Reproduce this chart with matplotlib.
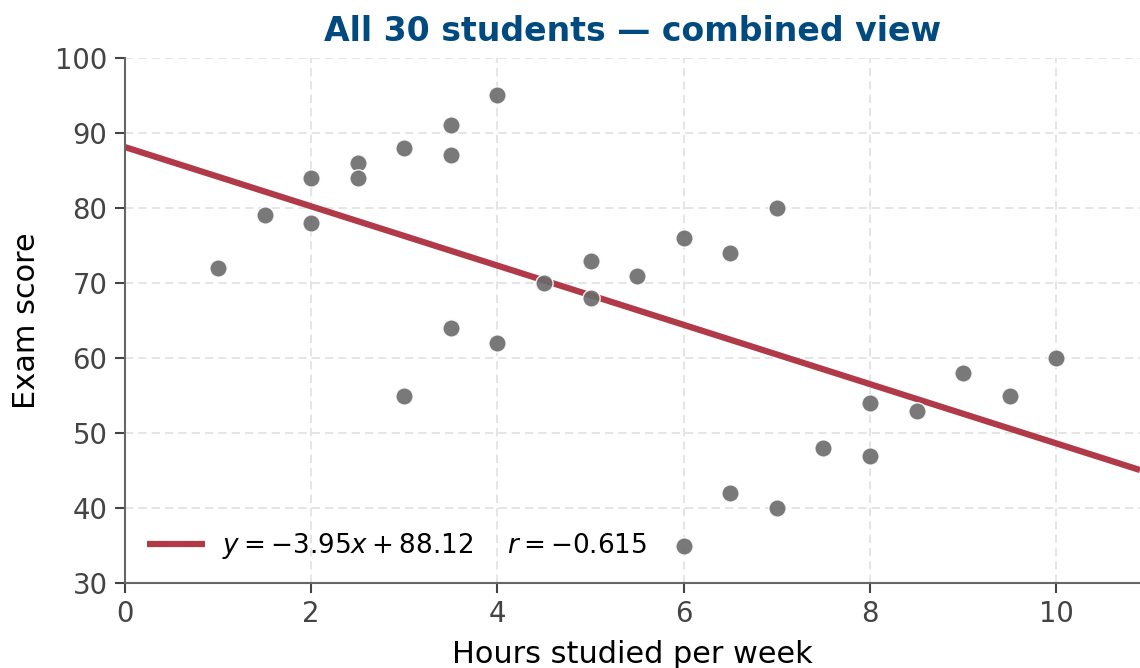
import matplotlib
matplotlib.use("Agg")
import matplotlib.pyplot as plt
import numpy as np

hours = [1, 1.5, 2, 2, 2.5, 2.5, 3, 3, 3.5, 3.5, 3.5, 4, 4, 4.5, 5, 5, 5.5,
         6, 6, 6.5, 6.5, 7, 7, 7.5, 8, 8, 8.5, 9, 9.5, 10]
scores = [72, 79, 84, 78, 86, 84, 88, 55, 91, 87, 64, 95, 62, 70, 73, 68, 71,
          76, 35, 74, 42, 80, 40, 48, 54, 47, 53, 58, 55, 60]
slope = -3.95
intercept = 88.12
r_value = -0.615

title = "All 30 students — combined view"
xlabel = "Hours studied per week"
ylabel = "Exam score"

fig = plt.figure(figsize=(11.4, 6.68), dpi=100)
ax = fig.add_axes([0.1096, 0.1272, 0.8904, 0.786])

ax.set_xlim(0, 10.9)
ax.set_ylim(30, 100)

ax.grid(True, color="#e0e0e0", linestyle=(0, (5, 3)), linewidth=1.2, zorder=0)
ax.set_axisbelow(True)

xs = np.array(ax.get_xlim())
label = f"$y = {slope:.2f}x + {intercept:.2f}$    $r = {r_value:.3f}$"
ax.plot(xs, slope * xs + intercept, color="#b03a48", linewidth=4.5, zorder=2,
        label=label, solid_capstyle="butt")
ax.scatter(hours, scores, s=155, color="#6a6a6a", alpha=0.9,
           edgecolors="white", linewidths=1.0, zorder=3)

for side in ["top", "right"]:
    ax.spines[side].set_visible(False)
for side in ["left", "bottom"]:
    ax.spines[side].set_color("#666666")
    ax.spines[side].set_linewidth(1.5)

ax.set_xticks([0, 2, 4, 6, 8, 10])
ax.set_yticks(range(30, 101, 10))
ax.tick_params(axis="both", labelsize=19.8, colors="#444444", length=7,
               width=1.5, pad=5.5)

ax.set_xlabel(xlabel, fontsize=21.9, color="black", labelpad=8)
ax.set_ylabel(ylabel, fontsize=21.9, color="black", labelpad=10)
ax.set_title(title, fontsize=23.9, fontweight="bold", color="#004a80", pad=12.5)

leg = ax.legend(loc="lower left", frameon=False, fontsize=18.9,
                handlelength=2.2, handletextpad=0.65, borderaxespad=0.45)

fig.savefig("out.png", dpi=100)
